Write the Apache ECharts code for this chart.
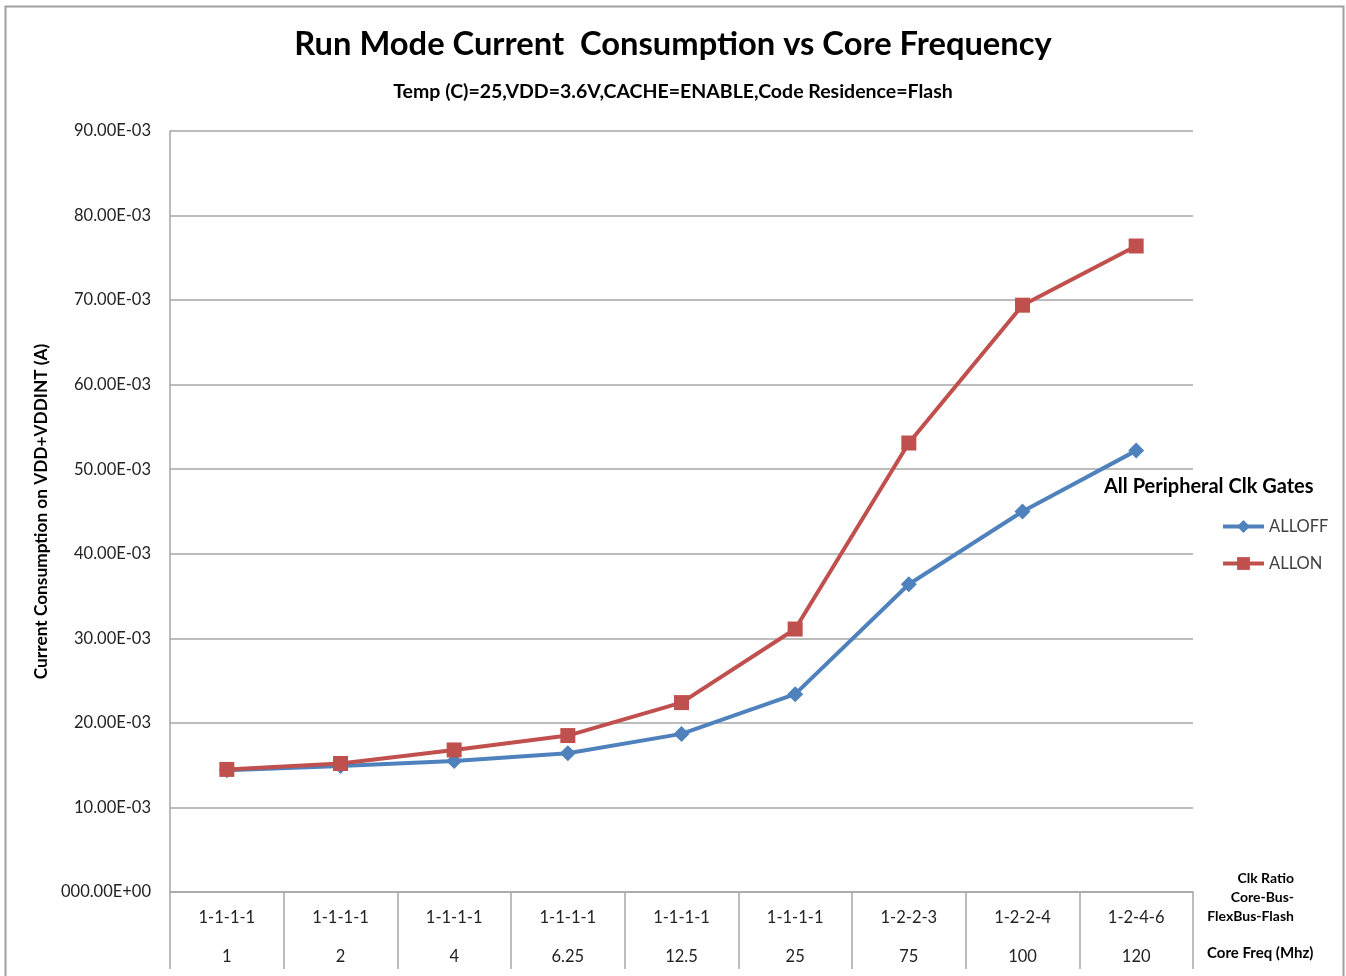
<!DOCTYPE html>
<html>
<head>
<meta charset="utf-8">
<script src="https://cdn.jsdelivr.net/npm/echarts@6/dist/echarts.min.js"></script>
<style>
  html, body { margin: 0; padding: 0; background: #fff; }
  #chart { width: 1346px; height: 976px; }
</style>
</head>
<body>
<div id="chart"></div>
<script>
// 数据
const clkRatios = ["1-1-1-1", "1-1-1-1", "1-1-1-1", "1-1-1-1", "1-1-1-1", "1-1-1-1", "1-2-2-3", "1-2-2-4", "1-2-4-6"];
const coreFreqs = ["1", "2", "4", "6.25", "12.5", "25", "75", "100", "120"];
const allOff = [0.0144, 0.0149, 0.0155, 0.0164, 0.0187, 0.0234, 0.0364, 0.0450, 0.0522];
const allOn = [0.0145, 0.0152, 0.0168, 0.0185, 0.0224, 0.0311, 0.0531, 0.0694, 0.0764];

const font = "Lato";
const gray = "#a6a6a6";

// y轴刻度格式 90.00E-03
const fmtY = (v) => (v === 0 ? "000.00E+00" : (v * 1000).toFixed(2) + "E-03");

// 右下角的说明文字
const noteText = (text, top) => ({
	type: "text",
	right: 52,
	top: top,
	style: { text: text, fontSize: 14, fontWeight: "bold", fill: "#000", fontFamily: font },
});

const myChart = echarts.init(document.querySelector("#chart"));

myChart.setOption({
	animation: false,
	textStyle: { fontFamily: font },
	title: [
		{
			text: "Run Mode Current  Consumption vs Core Frequency",
			left: "center",
			top: 23,
			textStyle: { fontSize: 32.7, fontWeight: "bold", color: "#000", fontFamily: font },
		},
		{
			text: "Temp (C)=25,VDD=3.6V,CACHE=ENABLE,Code Residence=Flash",
			left: "center",
			top: 77,
			textStyle: { fontSize: 19.5, fontWeight: "bold", color: "#000", fontFamily: font },
		},
	],
	grid: { left: 170, right: 153, top: 131, bottom: 83 },
	legend: {
		orient: "vertical",
		left: 1221,
		top: 518,
		padding: 0,
		itemGap: 20,
		itemWidth: 41,
		itemHeight: 16,
		itemStyle: { borderWidth: 0 },
		lineStyle: { width: 4 },
		textStyle: { fontSize: 16.5, color: "#404040", fontFamily: font },
		data: ["ALLOFF", "ALLON"],
	},
	xAxis: {
		type: "category",
		boundaryGap: true,
		data: clkRatios.map((r, i) => r + "\n" + coreFreqs[i]),
		axisLine: { lineStyle: { color: gray, width: 1.5 } },
		axisTick: { show: true, interval: 0, length: 77, lineStyle: { color: gray, width: 1.5 } },
		axisLabel: {
			interval: 0,
			margin: 6,
			lineHeight: 39,
			fontSize: 16.5,
			color: "#222",
			fontFamily: font,
		},
	},
	yAxis: {
		type: "value",
		min: 0,
		max: 0.09,
		interval: 0.01,
		name: "Current Consumption on VDD+VDDINT (A)",
		nameLocation: "middle",
		nameGap: 120,
		nameTextStyle: { fontSize: 17.3, fontWeight: "bold", color: "#000", fontFamily: font },
		axisLine: { show: true, lineStyle: { color: gray, width: 1.5 } },
		axisTick: { show: false },
		axisLabel: { formatter: fmtY, fontSize: 16.5, color: "#222", margin: 19, fontFamily: font },
		splitLine: { lineStyle: { color: gray, width: 1.5 } },
	},
	series: [
		{
			name: "ALLOFF",
			type: "line",
			data: allOff,
			symbol: "diamond",
			symbolSize: 16,
			itemStyle: { color: "#4F81BD" },
			lineStyle: { width: 4, color: "#4F81BD" },
		},
		{
			name: "ALLON",
			type: "line",
			data: allOn,
			symbol: "rect",
			symbolSize: 15,
			itemStyle: { color: "#C0504D" },
			lineStyle: { width: 4, color: "#C0504D" },
		},
	],
	graphic: [
		// 外框
		{
			type: "rect",
			shape: { x: 5.5, y: 6.5, width: 1338, height: 1000 },
			style: { fill: "none", stroke: "#a0a0a0", lineWidth: 2 },
			silent: true,
		},
		{
			type: "text",
			left: 1104,
			top: 477,
			style: { text: "All Peripheral Clk Gates", fontSize: 20, fontWeight: "bold", fill: "#000", fontFamily: font },
		},
		noteText("Clk Ratio", 871),
		noteText("Core-Bus-", 890),
		noteText("FlexBus-Flash", 909),
		{
			type: "text",
			left: 1207,
			top: 946,
			style: { text: "Core Freq (Mhz)", fontSize: 15, fontWeight: "bold", fill: "#000", fontFamily: font },
		},
	],
});
</script>
</body>
</html>
